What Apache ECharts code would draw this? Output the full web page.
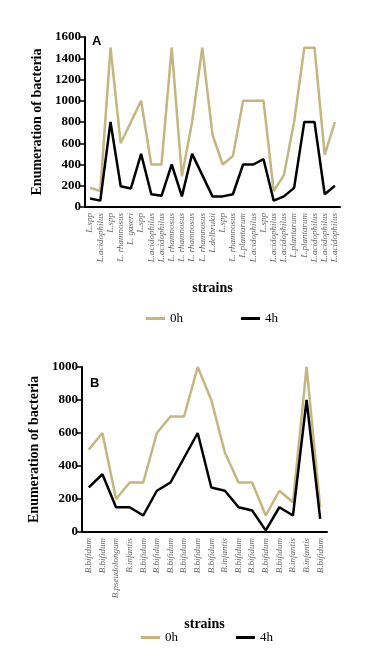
<!DOCTYPE html>
<html><head><meta charset="utf-8">
<script src="https://cdn.jsdelivr.net/npm/echarts@6/dist/echarts.min.js"></script>
<style>html,body{margin:0;padding:0;background:#fff}#c{width:372px;height:664px}</style>
</head><body><div id="c"></div>
<script>
var catsA = ['L.spp','L.acidophilus','L.spp','L. rhamnosus','L. gaseri','L.spp','L.acidophilus','L.acidophilus','L. rhamnosus','L. rhamnosus','L. rhamnosus','L. rhamnosus','L.delbrukii','L.spp','L. rhamnosus','L.plantarum','L.acidophilus','L.spp','L.acidophilus','L.acidophilus','L.plantarum','L.plantarum','L.acidophilus','L.acidophilus','L.acidophilus'];
var a0h = [180,150,1500,600,800,1000,400,400,1500,290,800,1500,680,400,480,1000,1000,1000,150,300,800,1500,1500,490,800];
var a4h = [80,60,800,195,175,500,120,105,400,100,500,300,100,100,120,400,400,450,60,100,180,800,800,120,200];
var catsB = ['B.bifidum','B.bifidum','B.pseudolongum','B.infantis','B.bifidum','B.bifidum','B.bifidum','B.bifidum','B.bifidum','B.bifidum','B.infantis','B.bifidum','B.bifidum','B.bifidum','B.bifidum','B.infantis','B.infantis','B.bifidum'];
var b0h = [500,600,200,300,300,600,700,700,1000,800,480,300,300,100,250,180,1000,150];
var b4h = [270,350,150,150,100,250,300,450,600,270,250,150,130,10,150,100,800,80];
var yTicksA = {max:1600, interval:200};
var yTicksB = {max:1000, interval:200};

var C0 = '#c4b67f', C1 = '#000000';
var serif = '"Liberation Serif","Times New Roman",serif';
function xAxis(idx, cats, gap){
  return {type:'category', gridIndex:idx, data:cats, boundaryGap:true,
    axisLine:{lineStyle:{color:'#000',width:2}},
    axisTick:{alignWithLabel:true, length:5, lineStyle:{color:'#000',width:1.5}},
    axisLabel:{rotate:90, interval:0, fontFamily:serif, fontStyle:'italic', fontSize:9, color:'#666', margin:6},
    name:'strains', nameLocation:'middle', nameGap:gap,
    nameTextStyle:{fontFamily:serif, fontWeight:'bold', fontSize:14, color:'#000'}};
}
function yAxis(idx, t){
  return {type:'value', gridIndex:idx, min:0, max:t.max, interval:t.interval,
    splitLine:{show:false},
    axisLine:{show:true, lineStyle:{color:'#000',width:2}},
    axisTick:{show:true, length:5, lineStyle:{color:'#000',width:1.5}},
    axisLabel:{fontFamily:serif, fontWeight:'bold', fontSize:13, color:'#000', margin:4,
      formatter:function(v){return String(v);}},
    name:'Enumeration of bacteria', nameLocation:'middle', nameGap:31,
    nameTextStyle:{fontFamily:serif, fontWeight:'bold', fontSize:14, color:'#000'}};
}
function ser(name, data, idx, color){
  return {type:'line', name:name, data:data, xAxisIndex:idx, yAxisIndex:idx,
    symbol:'none', lineStyle:{color:color, width:2.5}, itemStyle:{color:color}, animation:false};
}
function legend(left, top){
  return {data:['0h','4h'], left:left, top:top, icon:'rect', itemWidth:19, itemHeight:3, itemGap:58,
    textStyle:{fontFamily:serif, fontSize:13, color:'#000'}};
}
var chart = echarts.init(document.getElementById('c'));
chart.setOption({
  animation:false,
  grid:[{left:85, top:37, width:255, height:170},
        {left:82, top:367, width:245, height:165}],
  xAxis:[xAxis(0, catsA, 74), xAxis(1, catsB, 85)],
  yAxis:[yAxis(0, yTicksA), yAxis(1, yTicksB)],
  legend:[legend(141, 307), legend(136, 626)],
  graphic:[
    {type:'text', left:92, top:35, style:{text:'A', font:'bold 13px "Liberation Sans",Arial,sans-serif', fill:'#000'}},
    {type:'text', left:90, top:377, style:{text:'B', font:'bold 13px "Liberation Sans",Arial,sans-serif', fill:'#000'}}
  ],
  series:[ser('0h', a0h, 0, C0), ser('4h', a4h, 0, C1), ser('0h', b0h, 1, C0), ser('4h', b4h, 1, C1)]
});
</script></body></html>
